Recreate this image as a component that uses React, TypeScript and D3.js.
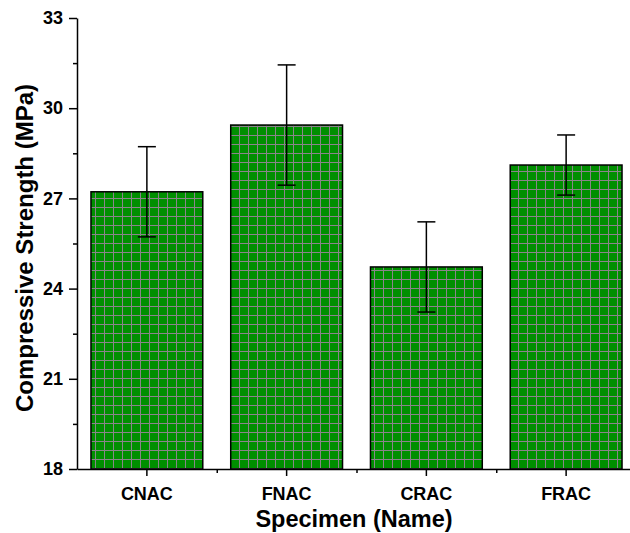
import React, { useEffect, useRef } from "react";
import * as d3 from "d3";

// data
const specimens = ["CNAC", "FNAC", "CRAC", "FRAC"];
const strength = [27.22, 29.44, 24.72, 28.11];
const errors = [1.5, 2.0, 1.5, 1.0];
const yTicks = [18, 21, 24, 27, 30, 33];

const margin = { top: 18, left: 77 };
const width = 630;
const height = 533;
const plotW = 559;
const plotH = 451;

export default function App() {
  const ref = useRef<SVGSVGElement>(null);

  useEffect(() => {
    const svg = d3.select(ref.current);
    svg.selectAll("*").remove();

    const defs = svg.append("defs");
    const pat = defs
      .append("pattern")
      .attr("id", "grid")
      .attr("patternUnits", "userSpaceOnUse")
      .attr("width", 9)
      .attr("height", 9);
    pat.append("rect").attr("width", 9).attr("height", 9).attr("fill", "#008f00");
    pat.append("path")
      .attr("d", "M0,0.5H9M0.5,0V9")
      .attr("stroke", "#8a858a")
      .attr("stroke-width", 1);

    const g = svg.append("g").attr("transform", `translate(${margin.left},${margin.top})`);

    const x = d3.scaleBand().domain(specimens).range([0, plotW]).padding(0.2).paddingOuter(0.1);
    const y = d3.scaleLinear().domain([18, 33]).range([plotH, 0]);

    // bars
    g.selectAll("rect.bar")
      .data(specimens)
      .enter()
      .append("rect")
      .attr("class", "bar")
      .attr("x", (d) => x(d)!)
      .attr("y", (d, i) => y(strength[i]))
      .attr("width", x.bandwidth())
      .attr("height", (d, i) => plotH - y(strength[i]))
      .attr("fill", "url(#grid)")
      .attr("stroke", "#000")
      .attr("stroke-width", 1.5);

    // error bars
    const eb = g.selectAll("g.err").data(specimens).enter().append("g").attr("class", "err");
    const cx = (d: string) => x(d)! + x.bandwidth() / 2;
    eb.append("line")
      .attr("x1", cx).attr("x2", cx)
      .attr("y1", (d, i) => y(strength[i] + errors[i]))
      .attr("y2", (d, i) => y(strength[i] - errors[i]))
      .attr("stroke", "#000").attr("stroke-width", 1.5);
    [1, -1].forEach((s) => {
      eb.append("line")
        .attr("x1", (d) => cx(d) - 9).attr("x2", (d) => cx(d) + 9)
        .attr("y1", (d, i) => y(strength[i] + s * errors[i]))
        .attr("y2", (d, i) => y(strength[i] + s * errors[i]))
        .attr("stroke", "#000").attr("stroke-width", 1.5);
    });

    // y axis
    const yAxis = g.append("g")
      .call(d3.axisLeft(y).tickValues(yTicks).tickSize(8).tickSizeOuter(0));
    g.append("g")
      .call(d3.axisLeft(y).tickValues(d3.range(19.5, 33, 3)).tickSize(4).tickFormat(() => ""))
      .select(".domain").remove();

    // x axis
    const xAxis = g.append("g")
      .attr("transform", `translate(0,${plotH})`)
      .call(d3.axisBottom(x).tickSize(7).tickSizeOuter(0).tickPadding(10));
    const step = x.step();
    g.append("g")
      .attr("transform", `translate(0,${plotH})`)
      .call(
        d3.axisBottom(d3.scaleLinear().domain([0, plotW]).range([0, plotW]))
          .tickValues(specimens.slice(1).map((d) => x(d)! - (step - x.bandwidth()) / 2))
          .tickSize(4)
          .tickFormat(() => "")
      )
      .select(".domain").remove();

    svg.selectAll(".domain").attr("stroke", "#000").attr("stroke-width", 1.5);
    svg.selectAll(".tick line").attr("stroke", "#000").attr("stroke-width", 1.5);
    svg.selectAll(".tick text")
      .attr("font-family", "Liberation Sans, Arial, sans-serif")
      .attr("font-weight", "bold")
      .attr("font-size", 18)
      .attr("fill", "#000");
    yAxis.selectAll(".tick text").attr("x", -14);
    xAxis.selectAll(".tick text").attr("dy", "0.8em");

    svg.append("text")
      .attr("transform", `translate(33,${margin.top + 230}) rotate(-90)`)
      .attr("text-anchor", "middle")
      .attr("font-family", "Liberation Sans, Arial, sans-serif")
      .attr("font-weight", "bold")
      .attr("font-size", 24)
      .text("Compressive Strength (MPa)");

    svg.append("text")
      .attr("x", margin.left + 277)
      .attr("y", 527)
      .attr("text-anchor", "middle")
      .attr("font-family", "Liberation Sans, Arial, sans-serif")
      .attr("font-weight", "bold")
      .attr("font-size", 23.5)
      .text("Specimen (Name)");
  }, []);

  return (
    <svg
      ref={ref}
      width={width}
      height={height}
      style={{ position: "absolute", left: 0, top: 0 }}
    />
  );
}
